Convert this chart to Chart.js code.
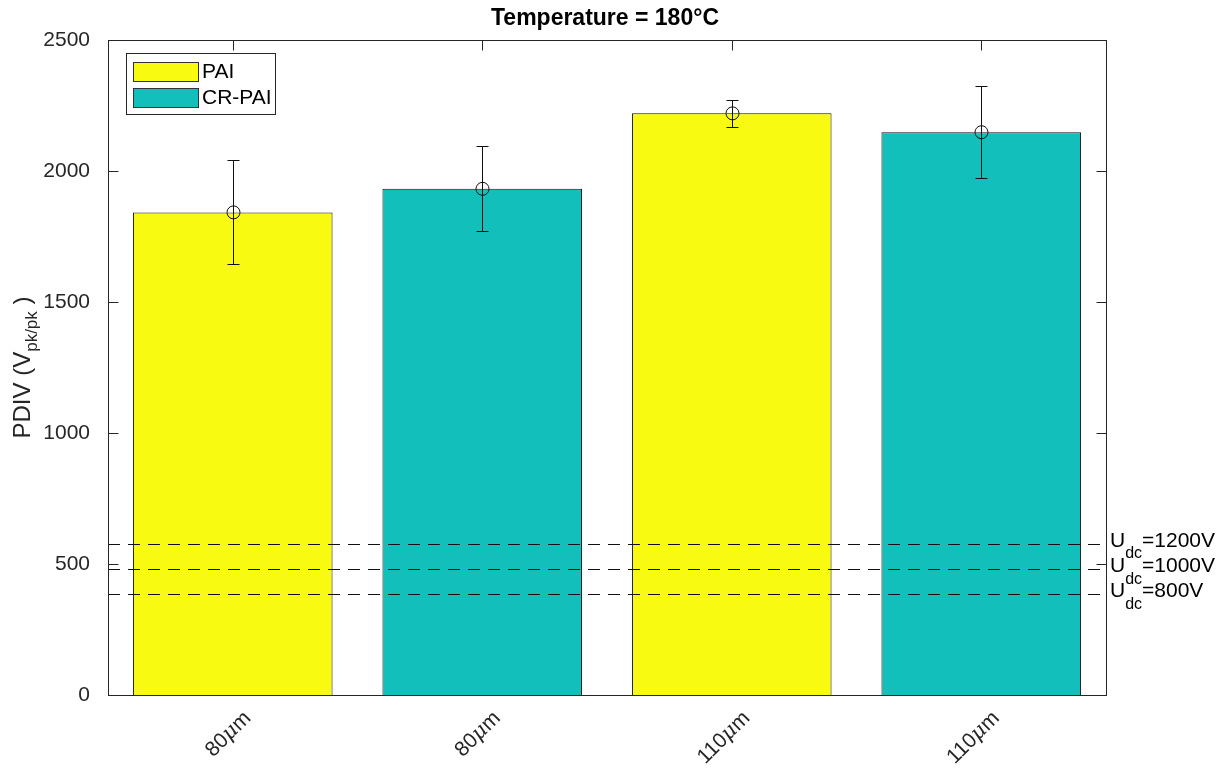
<!DOCTYPE html>
<html>
<head>
<meta charset="utf-8">
<script src="https://cdn.jsdelivr.net/npm/chart.js@4.4.1/dist/chart.umd.min.js"></script>
<style>
  body { margin: 0; background: #fff; }
  #wrap { width: 1232px; height: 769px; }
</style>
</head>
<body>
<div id="wrap"><canvas id="pdivChart" width="1232" height="769"></canvas></div>
<script>
// Data
const categories = ['80μm', '80μm', '110μm', '110μm'];
const paiValues = [1842, null, 2220, null];
const crPaiValues = [null, 1932, null, 2148];
const errLow = [1644, 1772, 2167, 1972];
const errHigh = [2041, 2097, 2272, 2323];
const udcVoltages = ['1200V', '1000V', '800V'];
const udcLevels = [576, 480, 384];
const yTicks = [0, 500, 1000, 1500, 2000, 2500];

const yellow = '#F8FA12';
const teal = '#12BFBB';
const axisColor = '#262626';
const font = '"Liberation Sans", Arial, sans-serif';

// draws a run of [text, fontString, dy] pieces starting at x
function drawRuns(ctx, runs, x, y) {
  runs.forEach(([txt, f, dy]) => {
    ctx.font = f;
    ctx.fillText(txt, x, y + dy);
    x += ctx.measureText(txt).width;
  });
}
function runsWidth(ctx, runs) {
  return runs.reduce((w, [txt, f]) => { ctx.font = f; return w + ctx.measureText(txt).width; }, 0);
}

const overlayPlugin = {
  id: 'overlay',
  // ticks sit under the bars, like a MATLAB axes with Layer = bottom
  beforeDatasetsDraw(chart) {
    const ctx = chart.ctx;
    const xs = chart.scales.x;
    const ys = chart.scales.y;
    const area = chart.chartArea;
    const L = Math.round(area.left) + 0.5, R = Math.round(area.right) + 0.5;
    const T = Math.round(area.top) + 0.5, B = Math.round(area.bottom) + 0.5;
    ctx.save();
    ctx.strokeStyle = axisColor;
    ctx.lineWidth = 1;
    ctx.beginPath();
    yTicks.forEach(v => {
      const y = Math.round(ys.getPixelForValue(v)) + 0.5;
      ctx.moveTo(L, y); ctx.lineTo(L + 10, y);
      ctx.moveTo(R, y); ctx.lineTo(R - 10, y);
    });
    categories.forEach((c, i) => {
      const x = Math.round(xs.getPixelForValue(i)) + 0.5;
      ctx.moveTo(x, B); ctx.lineTo(x, B - 10);
      ctx.moveTo(x, T); ctx.lineTo(x, T + 10);
    });
    ctx.stroke();
    ctx.restore();
  },
  afterDatasetsDraw(chart) {
    const ctx = chart.ctx;
    const xs = chart.scales.x;
    const ys = chart.scales.y;
    const area = chart.chartArea;

    ctx.save();

    // dashed Udc lines
    ctx.strokeStyle = '#111';
    ctx.lineWidth = 1;
    ctx.setLineDash([12, 8]);
    udcLevels.forEach(v => {
      const y = Math.round(ys.getPixelForValue(v)) + 0.5;
      ctx.beginPath();
      ctx.moveTo(area.left, y);
      ctx.lineTo(area.right, y);
      ctx.stroke();
    });
    ctx.setLineDash([]);

    // error bars with circle markers
    categories.forEach((c, i) => {
      const x = Math.round(xs.getPixelForValue(i)) + 0.5;
      const val = paiValues[i] !== null ? paiValues[i] : crPaiValues[i];
      const yv = ys.getPixelForValue(val);
      const yl = Math.round(ys.getPixelForValue(errLow[i])) + 0.5;
      const yh = Math.round(ys.getPixelForValue(errHigh[i])) + 0.5;
      ctx.strokeStyle = '#111';
      ctx.beginPath();
      ctx.moveTo(x, yl); ctx.lineTo(x, yh);
      ctx.moveTo(x - 6, yl); ctx.lineTo(x + 6, yl);
      ctx.moveTo(x - 6, yh); ctx.lineTo(x + 6, yh);
      ctx.stroke();
      ctx.beginPath();
      ctx.arc(x, yv, 6.5, 0, Math.PI * 2);
      ctx.stroke();
    });

    // axes box
    ctx.strokeStyle = axisColor;
    ctx.lineWidth = 1;
    const L = Math.round(area.left) + 0.5, R = Math.round(area.right) + 0.5;
    const T = Math.round(area.top) + 0.5, B = Math.round(area.bottom) + 0.5;
    ctx.strokeRect(L, T, R - L, B - T);

    // x tick labels, rotated 45°, with italic mu
    ctx.fillStyle = axisColor;
    ctx.textBaseline = 'middle';
    ctx.textAlign = 'left';
    categories.forEach((c, i) => {
      const x = xs.getPixelForValue(i);
      const [num, unit] = c.split('μ');
      const runs = [[num, '21px ' + font, 0], ['μ', 'italic 21px "DejaVu Serif", serif', 0], [unit, '21px ' + font, 0]];
      const w = runsWidth(ctx, runs);
      ctx.save();
      ctx.translate(x + 15, 715);
      ctx.rotate(-Math.PI / 4);
      drawRuns(ctx, runs, -w, 0);
      ctx.restore();
    });

    // legend
    ctx.fillStyle = '#fff';
    ctx.fillRect(126, 53, 149, 61);
    ctx.strokeStyle = axisColor;
    ctx.strokeRect(126.5, 53.5, 149, 61);
    [['PAI', yellow, 62], ['CR-PAI', teal, 88]].forEach(([label, color, y]) => {
      ctx.fillStyle = color;
      ctx.fillRect(133, y, 65, 19);
      ctx.strokeStyle = '#333';
      ctx.strokeRect(133.5, y + 0.5, 65, 19);
      ctx.fillStyle = '#000';
      ctx.font = '21px ' + font;
      ctx.textBaseline = 'middle';
      ctx.textAlign = 'left';
      ctx.fillText(label, 202, y + 10);
    });

    // Udc labels
    ctx.fillStyle = '#000';
    ctx.textBaseline = 'middle';
    udcLevels.forEach((v, i) => {
      const y = ys.getPixelForValue(v);
      drawRuns(ctx, [['U', '21px ' + font, -3], ['dc', '16px ' + font, 10], ['=' + udcVoltages[i], '21px ' + font, -3]], area.right + 4, y);
    });

    // title
    ctx.fillStyle = '#000';
    ctx.font = 'bold 23px ' + font;
    ctx.textAlign = 'center';
    ctx.textBaseline = 'middle';
    ctx.fillText('Temperature = 180°C', (area.left + area.right) / 2 - 2, 19);

    // y axis title with subscript
    ctx.translate(23, (area.top + area.bottom) / 2);
    ctx.rotate(-Math.PI / 2);
    ctx.fillStyle = axisColor;
    ctx.textAlign = 'left';
    const yRuns = [['PDIV (V', '24px ' + font, 0], ['pk/pk', '17px ' + font, 9], [' )', '24px ' + font, 0]];
    drawRuns(ctx, yRuns, -runsWidth(ctx, yRuns) / 2, 0);

    ctx.restore();
  }
};

new Chart(document.getElementById('pdivChart').getContext('2d'), {
  type: 'bar',
  data: {
    labels: categories,
    datasets: [
      {
        label: 'PAI',
        data: paiValues,
        backgroundColor: yellow,
        borderColor: '#111',
        borderWidth: 1,
        grouped: false,
        barPercentage: 0.8,
        categoryPercentage: 1
      },
      {
        label: 'CR-PAI',
        data: crPaiValues,
        backgroundColor: teal,
        borderColor: '#111',
        borderWidth: 1,
        grouped: false,
        barPercentage: 0.8,
        categoryPercentage: 1
      }
    ]
  },
  options: {
    responsive: false,
    animation: false,
    layout: { padding: { top: 40, right: 126, left: 0, bottom: 0 } },
    plugins: {
      legend: { display: false },
      title: { display: false },
      tooltip: { enabled: false }
    },
    scales: {
      x: {
        offset: true,
        grid: { display: false },
        border: { display: false },
        ticks: { display: false },
        afterFit: s => { s.height = 74; }
      },
      y: {
        min: 0,
        max: 2500,
        grid: { display: false },
        border: { display: false },
        ticks: {
          stepSize: 500,
          color: axisColor,
          font: { family: font, size: 21 },
          padding: 10,
          callback: v => String(v)
        },
        afterFit: s => { s.width = 108; }
      }
    }
  },
  plugins: [overlayPlugin]
});
</script>
</body>
</html>
